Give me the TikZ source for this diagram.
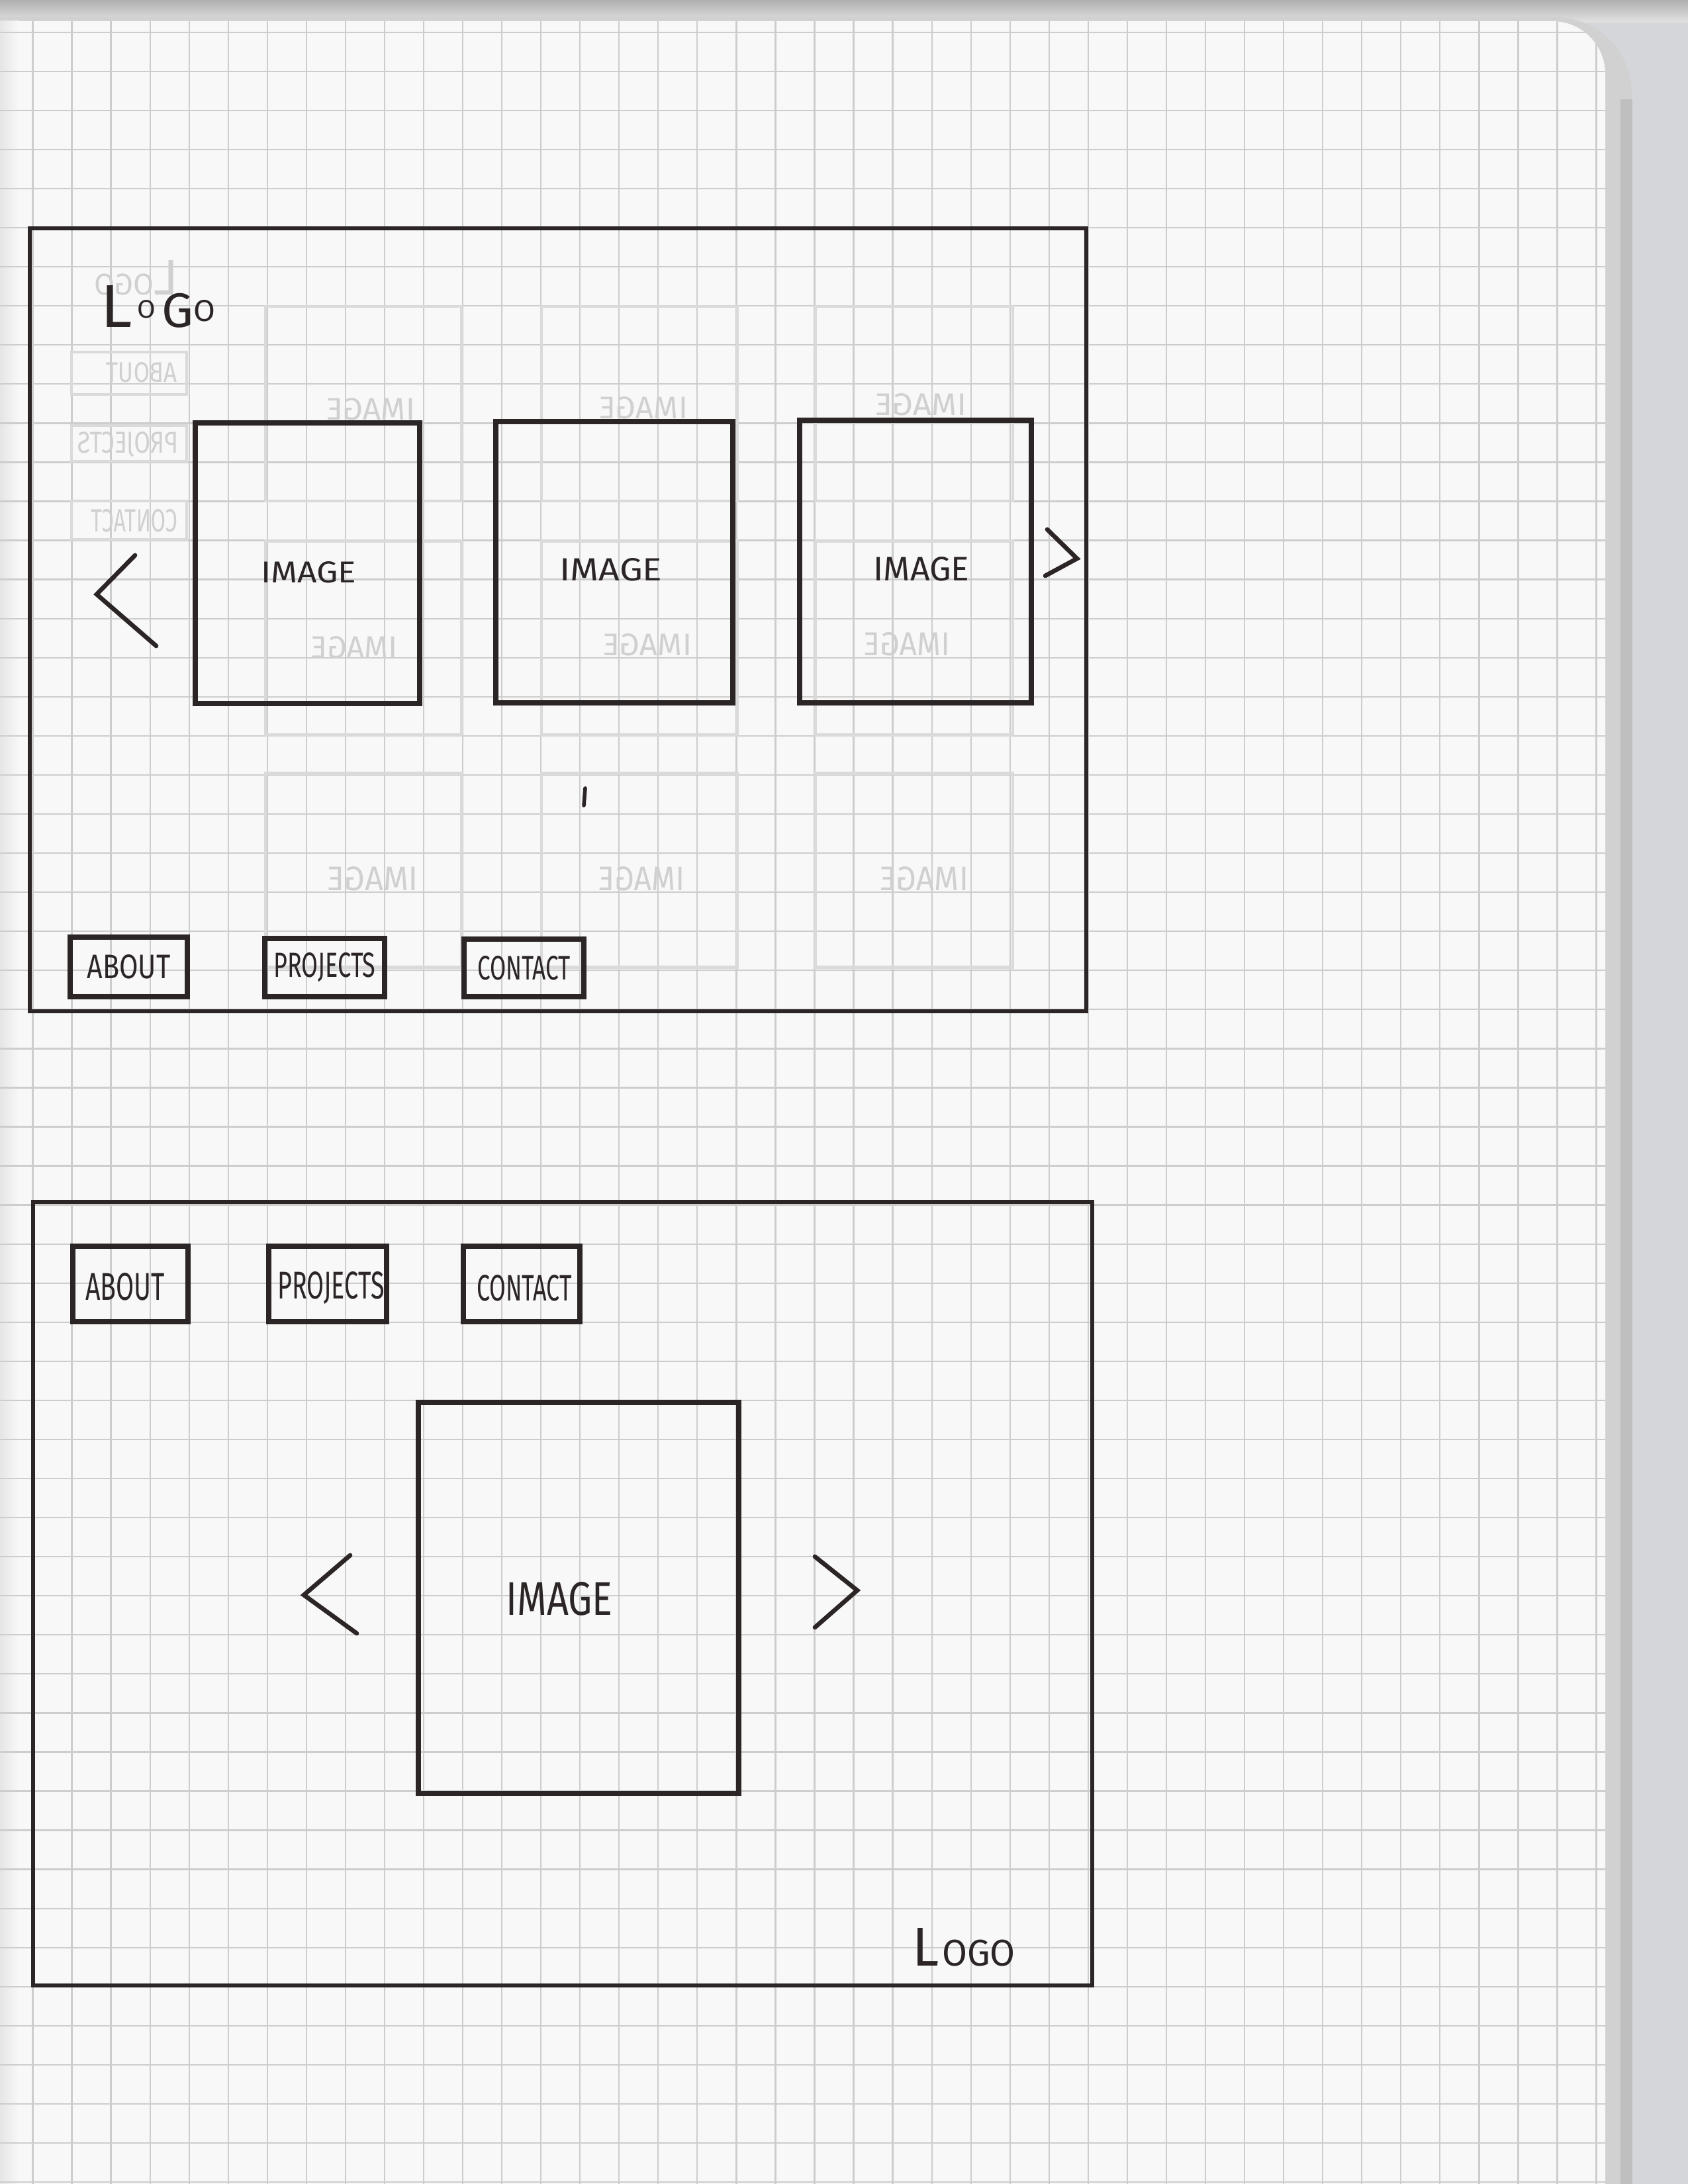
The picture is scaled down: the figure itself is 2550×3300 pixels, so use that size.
\documentclass[tikz,border=0pt]{standalone}
\usepackage{fontspec}
\setmainfont{Fira Sans}
\usepackage{graphicx}
\definecolor{ink}{HTML}{2B2526}
\definecolor{gridc}{HTML}{CDCDCD}
\definecolor{paper}{HTML}{F8F8F8}
\definecolor{ghost}{HTML}{DADADA}
\definecolor{ghosttext}{HTML}{D0D0D0}
\definecolor{scanbg}{HTML}{D5D6DA}
\newcommand{\fitw}[3]{\resizebox{#1mm}{#2mm}{#3}}
\newcommand{\ghostfit}[3]{\reflectbox{\resizebox{#1mm}{#2mm}{#3}}}
\begin{document}
\begin{tikzpicture}[x=0.1mm,y=-0.1mm,
  frame/.style={draw=ink, line width=1.9pt, inner sep=0pt},
  box/.style={draw=ink, line width=2.1pt, inner sep=0pt},
  btn/.style={draw=ink, line width=2.4pt, inner sep=0pt, text=ink},
  lbl/.style={inner sep=0pt, text=ink},
  chev/.style={draw=ink, line width=1.9pt, line cap=round, line join=miter},
  gbox/.style={draw=ghost, line width=1.3pt, inner sep=0pt},
  glbl/.style={inner sep=0pt, text=ghosttext},
]
\useasboundingbox (0,0) rectangle (2550,3300);
% scanner background
\fill[scanbg] (0,0) rectangle (2550,3300);
\shade[top color=gray!62, bottom color=gray!22] (0,0) rectangle (2550,34);
% paper edge band
\fill[gray!36] (-20,26) -- (2350,26) arc[start angle=-90, end angle=0, radius=115] -- (2465,3320) -- (-20,3320) -- cycle;
\fill[gray!50] (2448,150) rectangle (2466,3320);
% paper
\fill[paper] (-20,32) -- (2345,32) arc[start angle=-90, end angle=0, radius=80] -- (2425,3320) -- (-20,3320) -- cycle;
\shade[left color=gray!20, right color=paper] (0,32) rectangle (28,3300);
% grid (cell = 59 px = 5.9 mm)
\begin{scope}
\clip (-20,32) -- (2345,32) arc[start angle=-90, end angle=0, radius=80] -- (2425,3320) -- (-20,3320) -- cycle;
\begin{scope}[shift={(49.5,48.8)}]
\draw[gridc, line width=0.65pt, xstep=5.905mm, ystep=5.906mm] (-59,-59) grid (2380,3300);
\end{scope}
\end{scope}

% ghost show-through (from the reverse of the sheet)
\node[glbl, anchor=center] (glogo) at (206,420) {\ghostfit{12.7}{5.2}{L\scalebox{0.6}{OGO}}};
\node[gbox, minimum width=17.4mm, minimum height=6.4mm] (gabout) at (195,564) {};
\node[glbl] (gabouttxt) at (214,563) {\ghostfit{10.7}{3.0}{ABOUT}};
\node[gbox, minimum width=17.4mm, minimum height=5.4mm] (gproj) at (195,670) {};
\node[glbl] (gprojtxt) at (193,672) {\ghostfit{15.2}{3.2}{PROJECTS}};
\node[gbox, minimum width=17.4mm, minimum height=5.8mm] (gcont) at (195,786) {};
\node[glbl] (gconttxt) at (203,787) {\ghostfit{13.0}{3.4}{CONTACT}};
\foreach \cx/\w [count=\c] in {549/29.6, 966/29.6, 1381/29.8} {
  \foreach \cy/\h [count=\r] in {610/29.4, 964/29.3, 1315/29.3} {
    \node[gbox, minimum width=\w mm, minimum height=\h mm] (g\c\r) at (\cx,\cy) {};
  }
}
\node[glbl] (gt11) at (560,618) {\ghostfit{13.4}{3.3}{IMAGE}};
\node[glbl] (gt21) at (972,616) {\ghostfit{13.4}{3.3}{IMAGE}};
\node[glbl] (gt31) at (1391,611) {\ghostfit{13.8}{3.3}{IMAGE}};
\node[glbl] (gt12) at (535,978) {\ghostfit{13.0}{3.3}{IMAGE}};
\node[glbl] (gt22) at (978,974) {\ghostfit{13.4}{3.3}{IMAGE}};
\node[glbl] (gt32) at (1370,973) {\ghostfit{13.0}{3.5}{IMAGE}};
\node[glbl] (gt13) at (563,1328) {\ghostfit{13.7}{3.6}{IMAGE}};
\node[glbl] (gt23) at (969,1328) {\ghostfit{13.0}{3.6}{IMAGE}};
\node[glbl] (gt33) at (1396,1328) {\ghostfit{13.4}{3.6}{IMAGE}};

% ===== upper wireframe =====
\node[frame, minimum width=159.6mm, minimum height=118.3mm] (topframe) at (843,936.5) {};
\node[lbl, anchor=base west] (toplogo) at (152,495)
  {\fitw{17.3}{6.3}{L\kern0.08em\raisebox{0.3ex}{\scalebox{0.42}{O}}\kern0.1em\scalebox{0.8}{G}\raisebox{0.2ex}{\scalebox{0.5}{O}}}};
\node[box, minimum width=33.9mm, minimum height=42.4mm] (img1) at (464.5,851) {};
\node[box, minimum width=35.8mm, minimum height=42.5mm] (img2) at (928,849.5) {};
\node[box, minimum width=35.0mm, minimum height=42.7mm] (img3) at (1383,848.5) {};
\node[lbl] (img1txt) at (466,865) {\fitw{14.4}{3.2}{IMAGE}};
\node[lbl] (img2txt) at (923,861) {\fitw{15.5}{3.4}{IMAGE}};
\node[lbl] (img3txt) at (1392,860) {\fitw{14.5}{3.6}{IMAGE}};
\draw[chev] (204,839) -- (146,898) -- (236,976);
\draw[chev] (1582,800) -- (1627,844) -- (1579,870);
\draw[ink, line width=1.6pt, line cap=round] (884,1191) -- (882,1217);
\node[btn, minimum width=17.7mm, minimum height=9.0mm] (about1) at (194.5,1461) {\fitw{12.6}{3.6}{ABOUT}};
\node[btn, minimum width=18.1mm, minimum height=8.8mm] (proj1) at (490.5,1462) {\fitw{15.4}{3.7}{PROJECTS}};
\node[btn, minimum width=18.1mm, minimum height=8.7mm] (cont1) at (791.5,1462.5) {\fitw{14.1}{3.6}{CONTACT}};

% ===== lower wireframe =====
\node[frame, minimum width=160.0mm, minimum height=118.4mm] (botframe) at (850,2408) {};
\node[btn, minimum width=17.4mm, minimum height=11.4mm] (about2) at (197,1940) {};
\node[lbl] (about2txt) at (189,1944) {\fitw{12.0}{4.1}{ABOUT}};
\node[btn, minimum width=17.8mm, minimum height=11.4mm] (proj2) at (495,1940) {};
\node[lbl] (proj2txt) at (500,1946) {\fitw{16.1}{4.1}{PROJECTS}};
\node[btn, minimum width=17.6mm, minimum height=11.4mm] (cont2) at (788,1940) {};
\node[lbl] (cont2txt) at (792,1946) {\fitw{14.4}{3.9}{CONTACT}};
\node[box, minimum width=48.4mm, minimum height=59.1mm] (img4) at (874,2414.5) {};
\node[lbl] (img4txt) at (845,2416) {\fitw{16.1}{5.0}{IMAGE}};
\draw[chev] (529,2350) -- (459,2410) -- (539,2468);
\draw[chev] (1231,2352) -- (1295,2403) -- (1231,2459);
\node[lbl, anchor=base west] (botlogo) at (1378,2970) {\fitw{15.5}{5.7}{L\kern0.05em\scalebox{0.68}{OGO}}};
\end{tikzpicture}
\end{document}
